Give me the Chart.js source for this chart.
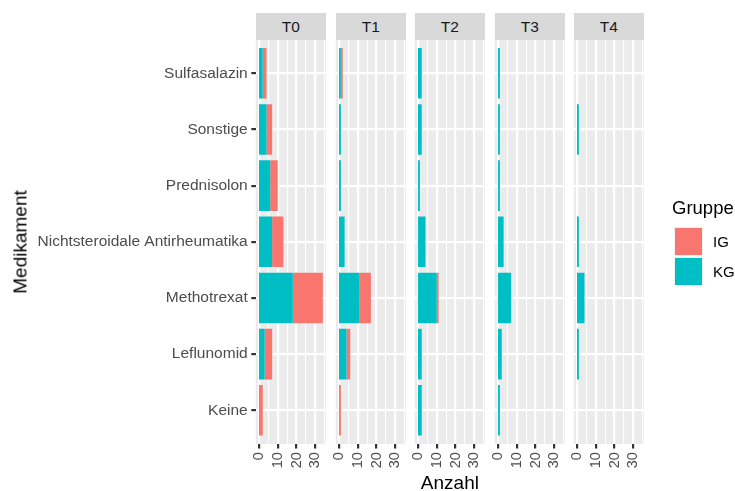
<!DOCTYPE html>
<html>
<head>
<meta charset="utf-8">
<script src="https://cdn.jsdelivr.net/npm/chart.js@4"></script>
<style>
  html, body { margin: 0; padding: 0; background: #fff; }
  #wrap { position: relative; width: 735px; height: 491px; overflow: hidden; font-family: "Liberation Sans", Arial, sans-serif; }
  #wrap canvas { position: absolute; left: 0; top: 0; }
  .strip { position: absolute; background: #D9D9D9; color: #1A1A1A; font-size: 15.5px; text-align: center; }
  .lbl { position: absolute; white-space: nowrap; color: #000; }
  .key { position: absolute; width: 27px; height: 27px; border: 0.5px solid #F2F2F2; }
</style>
</head>
<body>
<div id="wrap"></div>
<script>
// data
const categories = ['Sulfasalazin', 'Sonstige', 'Prednisolon', 'Nichtsteroidale Antirheumatika', 'Methotrexat', 'Leflunomid', 'Keine'];
const timepoints = ['T0', 'T1', 'T2', 'T3', 'T4'];
const kgT0 = [2, 4, 6, 7, 18, 3, 0];
const kgT1 = [1, 1, 1, 3, 11, 4, 0];
const kgT2 = [2, 2, 1, 4, 10, 2, 2];
const kgT3 = [1, 1, 1, 3, 7, 2, 1];
const kgT4 = [0, 1, 0, 1, 4, 1, 0];
const igT0 = [2, 3, 4, 6, 16, 4, 2];
const igT1 = [1, 0, 0, 0, 6, 2, 1];
const igT2 = [0, 0, 0, 0, 1, 0, 0];
const igT3 = [0, 0, 0, 0, 0, 0, 0];
const igT4 = [0, 0, 0, 0, 0, 0, 0];
const xTicks = [0, 10, 20, 30];

const kgCounts = [kgT0, kgT1, kgT2, kgT3, kgT4];
const igCounts = [igT0, igT1, igT2, igT3, igT4];

const IG_COL = '#F8766D', KG_COL = '#00BFC4';
const W = 735, H = 491;
const panelLeft = [255.8, 335.8, 414.8, 494.8, 573.8];
const panelW = 70.2;
const panelTop = 39.6, panelBottom = 444;

const wrap = document.getElementById('wrap');

// grey panel background
const panelBg = {
  id: 'panelBg',
  beforeDraw(chart) {
    const a = chart.chartArea, c = chart.ctx;
    c.save();
    c.fillStyle = '#EBEBEB';
    c.fillRect(a.left, a.top, a.right - a.left, a.bottom - a.top);
    c.restore();
  }
};

const isMajor = v => v % 10 === 0;

timepoints.forEach((tp, p) => {
  const cv = document.createElement('canvas');
  cv.width = W; cv.height = H;
  cv.style.width = W + 'px'; cv.style.height = H + 'px';
  wrap.appendChild(cv);

  const first = p === 0;
  // zero counts are left out so no hairline is drawn
  const toPts = arr => arr.map((v, i) => ({ x: v === 0 ? null : v, y: i }));

  new Chart(cv, {
    type: 'bar',
    data: {
      datasets: [
        { label: 'KG', data: toPts(kgCounts[p]), backgroundColor: KG_COL, stack: 's' },
        { label: 'IG', data: toPts(igCounts[p]), backgroundColor: IG_COL, stack: 's' }
      ]
    },
    options: {
      indexAxis: 'y',
      responsive: false,
      animation: false,
      devicePixelRatio: 1,
      barPercentage: 1,
      categoryPercentage: 0.9,
      borderWidth: 0,
      layout: {
        padding: {
          left: first ? 0 : panelLeft[p],
          right: W - panelLeft[p] - panelW,
          top: panelTop,
          bottom: 0
        }
      },
      plugins: { legend: { display: false }, tooltip: { enabled: false } },
      scales: {
        x: {
          type: 'linear',
          min: -1.7,
          max: 35.7,
          afterBuildTicks: s => {
            s.ticks = [0, 5, 10, 15, 20, 25, 30, 35].map(v => ({ value: v }));
            // bars start on the zero line, like ggplot (no half-gridline shift)
            s.getLineWidthForValue = () => 0;
          },
          afterFit: s => { s.height = H - panelBottom; },
          border: { display: false },
          grid: {
            color: '#FFFFFF',
            lineWidth: c => (c.tick && isMajor(c.tick.value) ? 2.2 : 1.1),
            tickColor: c => (c.tick && isMajor(c.tick.value) ? '#333333' : 'rgba(0,0,0,0)'),
            tickLength: 4.5,
            tickWidth: 2.2
          },
          ticks: {
            autoSkip: false,
            minRotation: 90,
            maxRotation: 90,
            padding: 3.6,
            color: '#4D4D4D',
            font: { family: 'Liberation Sans', size: 14.5 },
            callback: v => (xTicks.includes(v) ? String(v) : '')
          }
        },
        y: {
          type: 'linear',
          reverse: true,
          offset: false,
          min: -0.6,
          max: 6.6,
          afterBuildTicks: s => { s.ticks = categories.map((c, i) => ({ value: i })); },
          afterFit: s => { s.width = first ? panelLeft[0] : 0; },
          border: { display: false },
          grid: {
            offset: false,
            color: '#FFFFFF',
            lineWidth: 2.2,
            drawTicks: first,
            tickColor: '#333333',
            tickLength: 4.5,
            tickWidth: 2.2
          },
          ticks: {
            display: first,
            padding: 3.6,
            color: '#4D4D4D',
            font: { family: 'Liberation Sans', size: 15.5 },
            callback: v => categories[v]
          }
        }
      }
    },
    plugins: [panelBg]
  });

  // facet strip
  const st = document.createElement('div');
  st.className = 'strip';
  st.style.left = panelLeft[p] + 'px';
  st.style.width = panelW + 'px';
  st.style.top = '12.5px';
  st.style.height = (panelTop - 12.5) + 'px';
  st.style.lineHeight = (panelTop - 12.5) + 'px';
  st.textContent = tp;
  wrap.appendChild(st);
});

// axis titles and legend as text
const addText = (txt, x, y, size, extra) => {
  const d = document.createElement('div');
  d.className = 'lbl';
  d.style.left = x + 'px';
  d.style.top = y + 'px';
  d.style.fontSize = size + 'px';
  d.style.lineHeight = '1';
  d.textContent = txt;
  Object.assign(d.style, extra || {});
  wrap.appendChild(d);
  return d;
};

addText('Anzahl', (panelLeft[0] + panelLeft[4] + panelW) / 2, 482, 19, { transform: 'translate(-50%, -50%)' });
addText('Medikament', 19.5, (panelTop + panelBottom) / 2, 19, { transform: 'translate(-50%, -50%) rotate(-90deg)' });
addText('Gruppe', 672, 208, 18.5, { transform: 'translateY(-50%)' });

const legendItems = [['IG', IG_COL, 227], ['KG', KG_COL, 257]];
legendItems.forEach(([name, col, top]) => {
  const k = document.createElement('div');
  k.className = 'key';
  k.style.left = '674px';
  k.style.top = top + 'px';
  k.style.background = col;
  wrap.appendChild(k);
  addText(name, 713, top + 14, 15, { transform: 'translateY(-50%)' });
});
</script>
</body>
</html>
